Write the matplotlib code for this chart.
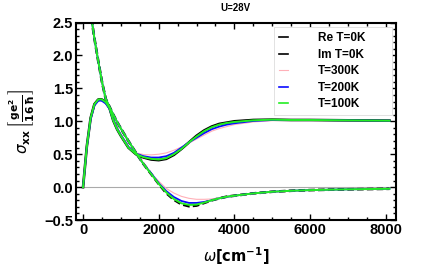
import matplotlib
matplotlib.use("Agg")
import matplotlib.pyplot as plt
from matplotlib.ticker import MultipleLocator
import numpy as np

plt.rcParams['font.family'] = ['Liberation Sans', 'DejaVu Sans']

# frequency grid (cm^-1)
omega = [0, 100, 200, 300, 400, 450, 500, 600, 700, 800, 900, 1000, 1200, 1400,
         1600, 1800, 2000, 2200, 2400, 2600, 2800, 3000, 3200, 3400, 3600, 3800,
         4000, 4500, 5000, 5500, 6000, 7000, 8100]

# real part
re_0 = [0.0, 0.62, 1.05, 1.26, 1.33, 1.335, 1.33, 1.29, 1.20, 1.01, 0.88, 0.78, 0.60, 0.50,
        0.45, 0.42, 0.41, 0.43, 0.49, 0.58, 0.68, 0.78, 0.86, 0.92, 0.96, 0.98,
        1.00, 1.02, 1.025, 1.02, 1.02, 1.015, 1.01]
re_100 = [0.0, 0.62, 1.05, 1.26, 1.33, 1.335, 1.33, 1.29, 1.20, 1.01, 0.88, 0.78, 0.60, 0.50,
          0.455, 0.43, 0.42, 0.44, 0.50, 0.58, 0.68, 0.77, 0.85, 0.91, 0.95, 0.975,
          0.99, 1.015, 1.025, 1.02, 1.02, 1.015, 1.01]
re_200 = [0.0, 0.61, 1.03, 1.24, 1.31, 1.315, 1.31, 1.27, 1.19, 1.02, 0.89, 0.79, 0.61, 0.51,
          0.47, 0.45, 0.45, 0.47, 0.52, 0.60, 0.68, 0.75, 0.82, 0.88, 0.92, 0.95,
          0.97, 1.005, 1.02, 1.02, 1.02, 1.015, 1.01]
re_300 = [0.0, 0.61, 1.04, 1.25, 1.32, 1.325, 1.32, 1.28, 1.20, 1.03, 0.90, 0.80, 0.62, 0.52,
          0.495, 0.49, 0.50, 0.52, 0.56, 0.61, 0.67, 0.73, 0.79, 0.85, 0.89, 0.92,
          0.95, 0.99, 1.01, 1.015, 1.015, 1.012, 1.01]

# imaginary part
im_0 = [np.nan, 3.3, 2.65, 2.26, 1.92, 1.76, 1.60, 1.34, 1.22, 1.10, 0.99, 0.89, 0.70, 0.52,
        0.35, 0.20, 0.05, -0.09, -0.19, -0.26, -0.29, -0.28, -0.24, -0.20, -0.17, -0.145,
        -0.13, -0.095, -0.07, -0.055, -0.045, -0.033, -0.025]
im_100 = [np.nan, 3.3, 2.65, 2.26, 1.92, 1.76, 1.60, 1.34, 1.22, 1.10, 0.99, 0.89, 0.70, 0.52,
          0.35, 0.20, 0.05, -0.08, -0.18, -0.245, -0.27, -0.265, -0.235, -0.20, -0.17, -0.145,
          -0.13, -0.095, -0.07, -0.055, -0.045, -0.033, -0.025]
im_200 = [np.nan, 3.3, 2.65, 2.26, 1.92, 1.76, 1.60, 1.34, 1.22, 1.10, 0.99, 0.89, 0.70, 0.52,
          0.35, 0.21, 0.06, -0.06, -0.15, -0.21, -0.24, -0.24, -0.225, -0.20, -0.17, -0.148,
          -0.13, -0.095, -0.07, -0.055, -0.045, -0.033, -0.025]
im_300 = [np.nan, 3.3, 2.65, 2.26, 1.92, 1.76, 1.60, 1.34, 1.22, 1.10, 0.99, 0.89, 0.70, 0.52,
          0.36, 0.21, 0.09, -0.02, -0.09, -0.14, -0.17, -0.185, -0.185, -0.18, -0.165, -0.15,
          -0.135, -0.10, -0.075, -0.058, -0.047, -0.034, -0.026]

fig = plt.figure(figsize=(4.36, 2.72), dpi=100)
ax = fig.add_axes([0.174, 0.191, 0.734, 0.726])

ax.axhline(0, color='#aaaaaa', lw=0.8, zorder=1)

l1, = ax.plot(omega, re_0, color='black', lw=1.9, label='Re T=0K')
l2, = ax.plot(omega, im_0, color='black', lw=1.9, ls=(0, (2.5, 1.2)), label='Im T=0K')
l3, = ax.plot(omega, re_300, color='#ffb0b8', lw=0.8, label='T=300K')
ax.plot(omega, im_300, color='#ffb0b8', lw=0.8)
l4, = ax.plot(omega, re_200, color='#0a0aff', lw=1.3, label='T=200K')
ax.plot(omega, im_200, color='#0a0aff', lw=1.3)
l5, = ax.plot(omega, re_100, color='#22ee22', lw=1.4, label='T=100K')
ax.plot(omega, im_100, color='#22ee22', lw=1.4)

ax.set_xlim(-190, 8270)
ax.set_ylim(-0.5, 2.5)
ax.xaxis.set_major_locator(MultipleLocator(2000))
ax.xaxis.set_minor_locator(MultipleLocator(500))
ax.yaxis.set_major_locator(MultipleLocator(0.5))
ax.yaxis.set_minor_locator(MultipleLocator(0.1))
ax.tick_params(which='both', direction='in', top=True, right=True,
               labelsize=10.5, width=1.0, pad=2)
ax.tick_params(which='major', length=4)
ax.tick_params(which='minor', length=2)
ax.set_yticks(ax.get_yticks())
ax.set_yticklabels([f'{v:.1f}'.replace('-', '\u2212') for v in ax.get_yticks()])
for lab in ax.get_xticklabels() + ax.get_yticklabels():
    lab.set_fontweight('bold')
ax.set_ylim(-0.5, 2.5)
for s in ax.spines.values():
    s.set_linewidth(1.5)

ax.set_title('U=28V', fontsize=7, fontweight='bold', pad=8)
ax.set_xlabel(r'$\omega\mathbf{[cm^{-1}]}$', fontsize=10.5, labelpad=6)
ax.set_ylabel(r'$\sigma_{\mathbf{xx}}\,\left[\frac{\mathbf{ge^2}}{\mathbf{16\,\hbar}}\right]$',
              fontsize=11, labelpad=5)

leg = ax.legend(handles=[l1, l2, l3, l4, l5], loc='upper left', mode='expand',
                bbox_to_anchor=(0.619, 0.557, 0.369, 0.421),
                prop={'weight': 'bold', 'size': 8.5}, handlelength=0.7,
                handletextpad=2.6, labelspacing=0.38, borderpad=0.45,
                borderaxespad=0.0, fancybox=False, framealpha=1,
                edgecolor='#dddddd')
leg.get_frame().set_linewidth(0.6)
for h in leg.get_lines():
    h.set_linestyle('-')
    h.set_linewidth(min(h.get_linewidth(), 1.2))

fig.savefig('out.png', dpi=100)
